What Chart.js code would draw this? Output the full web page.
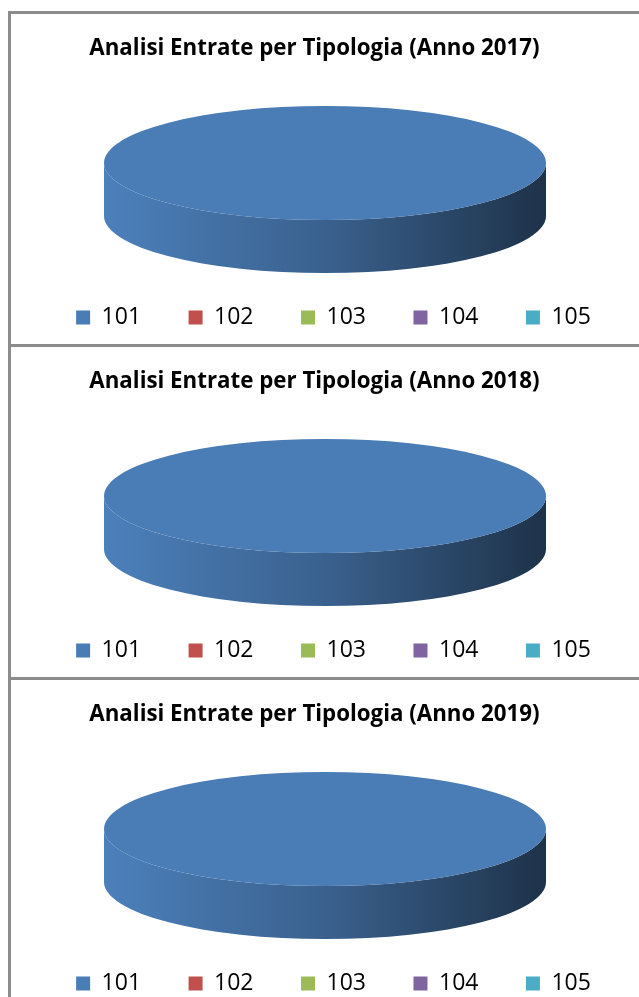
<!DOCTYPE html>
<html><head><meta charset="utf-8">
<script src="https://cdn.jsdelivr.net/npm/chart.js@4/dist/chart.umd.min.js"></script>
<style>
html,body{margin:0;padding:0;background:#fff;width:639px;height:997px;overflow:hidden;}
.panel{position:absolute;left:8px;width:640px;height:330px;border-top:3px solid #8c8c8c;border-left:3px solid #8c8c8c;background:#fff;}
.panel canvas{position:absolute;left:0;top:0;}
</style></head><body>
<div class="panel" style="top:11px"><canvas id="c0" width="628" height="330"></canvas></div>
<div class="panel" style="top:344px"><canvas id="c1" width="628" height="330"></canvas></div>
<div class="panel" style="top:677px"><canvas id="c2" width="628" height="330"></canvas></div>
<script>
const categories = ['101', '102', '103', '104', '105'];
const years = ['2017', '2018', '2019'];
const values2017 = [100, 0, 0, 0, 0];
const values2018 = [100, 0, 0, 0, 0];
const values2019 = [100, 0, 0, 0, 0];
const seriesByYear = [values2017, values2018, values2019];
const sliceColors = ['#4a7cb6', '#c0504d', '#9bbb59', '#8064a2', '#4bacc6'];

function shade(hex, f) {
  const h = hex.replace('#', '');
  const r = parseInt(h.substr(0, 2), 16), g = parseInt(h.substr(2, 2), 16), b = parseInt(h.substr(4, 2), 16);
  const c = v => Math.max(0, Math.min(255, Math.round(v * f)));
  return 'rgb(' + c(r) + ',' + c(g) + ',' + c(b) + ')';
}

const pie3d = {
  id: 'pie3d',
  beforeDatasetsDraw(chart, args, opts) {
    const meta = chart.getDatasetMeta(0);
    const ref = meta.data[0];
    const R = ref.outerRadius, x0 = ref.x, y0 = ref.y;
    const {cx, cy, rx, ry, depth} = opts;
    const ctx = chart.ctx;
    meta.data.forEach(arc => {
      if (!(arc.circumference > 0)) return;
      const s = arc.startAngle, e = arc.endAngle;
      for (let k = -1; k <= 1; k++) {
        const a1 = Math.max(s + 2 * Math.PI * k, 0);
        const a2 = Math.min(e + 2 * Math.PI * k, Math.PI);
        if (a2 <= a1) continue;
        const base = arc.options.backgroundColor;
        const g = ctx.createLinearGradient(cx - rx, 0, cx + rx, 0);
        g.addColorStop(0, shade(base, 1.03));
        g.addColorStop(0.5, shade(base, 0.78));
        g.addColorStop(1, shade(base, 0.40));
        ctx.beginPath();
        ctx.ellipse(cx, cy, rx, ry, 0, a1, a2, false);
        ctx.ellipse(cx, cy + depth, rx, ry, 0, a2, a1, true);
        ctx.closePath();
        ctx.fillStyle = g;
        ctx.fill();
      }
    });
    ctx.save();
    ctx.translate(cx, cy);
    ctx.scale(rx / R, ry / R);
    ctx.translate(-x0, -y0);
  },
  afterDatasetsDraw(chart) { chart.ctx.restore(); }
};

const shiftPlugin = {
  id: 'shift',
  afterLayout(chart, args, opts) {
    const t = chart.titleBlock;
    if (t) { t.left += opts.title; t.right += opts.title; }
    const l = chart.legend;
    if (l) { l.left += opts.legend; l.right += opts.legend; }
  }
};

years.forEach((year, i) => {
  new Chart(document.getElementById('c' + i), {
    type: 'pie',
    data: {
      labels: categories,
      datasets: [{
        data: seriesByYear[i],
        backgroundColor: sliceColors,
        borderWidth: 0,
        hoverOffset: 0
      }]
    },
    plugins: [pie3d, shiftPlugin],
    options: {
      responsive: false,
      devicePixelRatio: 1,
      animation: false,
      events: [],
      layout: {padding: {top: 0, bottom: 5, left: 0, right: 0}},
      plugins: {
        title: {
          display: true,
          text: 'Analisi Entrate per Tipologia (Anno ' + year + ')',
          color: '#000',
          font: {family: 'Open Sans', size: 22.3, weight: 'bold'},
          padding: {top: 21, bottom: 10}
        },
        legend: {
          display: true,
          position: 'bottom',
          labels: {
            color: '#000',
            font: {family: 'Open Sans', size: 23},
            boxWidth: 14,
            boxHeight: 14,
            padding: 47.5
          }
        },
        tooltip: {enabled: false},
        pie3d: {cx: 314, cy: 149, rx: 221, ry: 57, depth: 53},
        shift: {title: -10.5, legend: 8.5}
      }
    }
  });
});
</script>
</body></html>
